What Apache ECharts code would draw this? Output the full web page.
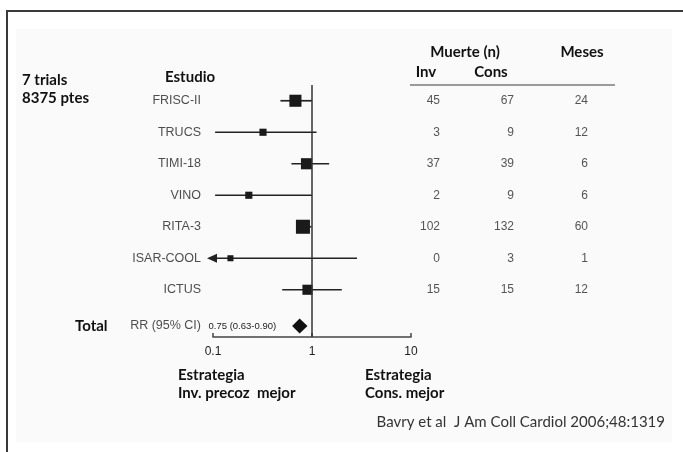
<!DOCTYPE html>
<html>
<head>
<meta charset="utf-8">
<script src="https://cdn.jsdelivr.net/npm/echarts@6/dist/echarts.min.js"></script>
<style>
html,body{margin:0;padding:0;background:#fff;}
#chart{width:683px;height:452px;}
</style>
</head>
<body>
<div id="chart"></div>
<script>
// ---- data ----
const studies = ['FRISC-II', 'TRUCS', 'TIMI-18', 'VINO', 'RITA-3', 'ISAR-COOL', 'ICTUS'];
const rr      = [0.68, 0.32, 0.88, 0.23, 0.81, 0.15, 0.90];
const ciLow   = [0.48, 0.105, 0.62, 0.105, 0.69, null, 0.50];   // null = below axis range (arrow)
const ciHigh  = [1.00, 1.11, 1.49, 1.00, 0.99, 2.85, 2.00];
const weights = [20, 7, 17, 7, 27, 5, 14];                      // relative study weights (%)
const invDeaths  = [45, 3, 37, 2, 102, 0, 15];
const consDeaths = [67, 9, 39, 9, 132, 3, 15];
const months     = [24, 12, 6, 6, 60, 1, 12];
const totalLabel = 'RR (95% CI)';
const totalRR = 0.75, totalLow = 0.63, totalHigh = 0.90;
const tableCols = ['Inv', 'Cons', 'Meses'];
const xTicks = [0.1, 1, 10];

// ---- layout helpers ----
const TOTAL_ROW = 7.15;
const xMin = xTicks[0], xMax = xTicks[xTicks.length - 1];
const helv = 'Liberation Sans';

const chart = echarts.init(document.getElementById('chart'), null, {renderer: 'canvas'});

const yAxisCfg = (gi) => ({
  type: 'value', gridIndex: gi, min: -0.5, max: 7.5, inverse: true, show: false
});

const labelData = studies.map((s, i) => ({value: [xMin, i], name: s}));
labelData.push({value: [xMin, TOTAL_ROW], name: totalLabel});

const tableData = [];
studies.forEach((s, i) => {
  tableData.push({value: [tableCols[0], i], label: {formatter: String(invDeaths[i])}});
  tableData.push({value: [tableCols[1], i], label: {formatter: String(consDeaths[i])}});
  tableData.push({value: [tableCols[2], i], label: {formatter: String(months[i])}});
});

function studyItem(params, api) {
  const i = params.dataIndex;
  const y = api.coord([1, i])[1];
  const xm = api.coord([rr[i], i])[0];
  const hiX = api.coord([ciHigh[i], i])[0];
  const minX = api.coord([xMin, i])[0];
  const children = [];
  let loX;
  let arrow = false;
  if (ciLow[i] == null || ciLow[i] < xMin) { loX = minX - 6; arrow = true; }
  else loX = api.coord([ciLow[i], i])[0];
  const lineStart = arrow ? loX + 8 : loX;
  children.push({type: 'line', shape: {x1: lineStart, y1: y, x2: hiX, y2: y},
    style: {stroke: '#222', lineWidth: 1.7}});
  if (arrow) {
    children.push({type: 'polygon', shape: {points: [[loX, y], [loX + 10, y - 4.5], [loX + 10, y + 4.5]]},
      style: {fill: '#222'}});
  }
  const side = 2.7 * Math.sqrt(weights[i]);
  children.push({type: 'rect', shape: {x: xm - side / 2, y: y - side / 2, width: side, height: side},
    style: {fill: '#1a1a1a'}});
  return {type: 'group', children};
}

function totalItem(params, api) {
  const p = api.coord([totalRR, TOTAL_ROW]);
  const lo = api.coord([totalLow, TOTAL_ROW])[0];
  const hi = api.coord([totalHigh, TOTAL_ROW])[0];
  const h = 7.5;
  return {type: 'group', children: [
    {type: 'polygon', shape: {points: [[lo, p[1]], [p[0], p[1] - h], [hi, p[1]], [p[0], p[1] + h]]},
      style: {fill: '#111'}},
    {type: 'text', style: {x: lo - 16, y: p[1], text: totalRR.toFixed(2) + ' (' + totalLow.toFixed(2) + '-' + totalHigh.toFixed(2) + ')',
      align: 'right', verticalAlign: 'middle', fill: '#222', font: '9.5px "Liberation Sans"'}}
  ]};
}

const option = {
  animation: false,
  backgroundColor: '#fff',
  grid: [
    {left: 213, width: 198, top: 85, height: 252},
    {left: 403, width: 222, top: 85, height: 252}
  ],
  xAxis: [
    {type: 'log', logBase: 10, min: xMin, max: xMax, gridIndex: 0,
      axisLine: {show: true, onZero: false, lineStyle: {color: '#444', width: 1.5}},
      axisTick: {show: true, inside: true, length: 4, lineStyle: {color: '#444', width: 1.5}},
      minorTick: {show: false}, splitLine: {show: false},
      axisLabel: {color: '#222', fontFamily: helv, fontSize: 12, margin: 9,
        formatter: v => String(v)}},
    {type: 'category', data: tableCols, gridIndex: 1, show: false}
  ],
  yAxis: [yAxisCfg(0), yAxisCfg(1)],
  graphic: [
    {type: 'rect', shape: {x: 16, y: 29, width: 656, height: 413}, style: {fill: '#fafafa'}, z: -10},
    {type: 'rect', shape: {x: 7, y: 11, width: 700, height: 500}, style: {fill: null, stroke: '#3a3a3a', lineWidth: 2}, z: 10},
    {type: 'text', x: 22, y: 80, style: {text: '7 trials', font: 'bold 15px Lato', fill: '#111', verticalAlign: 'middle'}},
    {type: 'text', x: 22, y: 98, style: {text: '8375 ptes', font: 'bold 15px Lato', fill: '#111', verticalAlign: 'middle'}},
    {type: 'text', x: 165, y: 77, style: {text: 'Estudio', font: 'bold 15px Lato', fill: '#111', verticalAlign: 'middle'}},
    {type: 'text', x: 75, y: 326, style: {text: 'Total', font: 'bold 15px Lato', fill: '#111', verticalAlign: 'middle'}},
    {type: 'text', x: 465, y: 52, style: {text: 'Muerte (n)', font: 'bold 15px Lato', fill: '#111', align: 'center', verticalAlign: 'middle'}},
    {type: 'text', x: 582, y: 52, style: {text: 'Meses', font: 'bold 15px Lato', fill: '#111', align: 'center', verticalAlign: 'middle'}},
    {type: 'text', x: 426, y: 72, style: {text: 'Inv', font: 'bold 15px Lato', fill: '#111', align: 'center', verticalAlign: 'middle'}},
    {type: 'text', x: 491, y: 72, style: {text: 'Cons', font: 'bold 15px Lato', fill: '#111', align: 'center', verticalAlign: 'middle'}},
    {type: 'line', shape: {x1: 410, y1: 85, x2: 615, y2: 85}, style: {stroke: '#9a9a9a', lineWidth: 2}},
    {type: 'text', x: 178, y: 375, style: {text: 'Estrategia', font: 'bold 15px Lato', fill: '#111', verticalAlign: 'middle'}},
    {type: 'text', x: 178, y: 393, style: {text: 'Inv. precoz  mejor', font: 'bold 15px Lato', fill: '#111', verticalAlign: 'middle'}},
    {type: 'text', x: 365, y: 375, style: {text: 'Estrategia', font: 'bold 15px Lato', fill: '#111', verticalAlign: 'middle'}},
    {type: 'text', x: 365, y: 393, style: {text: 'Cons. mejor', font: 'bold 15px Lato', fill: '#111', verticalAlign: 'middle'}},
    {type: 'text', x: 665, y: 422, style: {text: 'Bavry et al  J Am Coll Cardiol 2006;48:1319', font: '15px Lato', fill: '#333', align: 'right', verticalAlign: 'middle'}}
  ],
  series: [
    {type: 'custom', xAxisIndex: 0, yAxisIndex: 0, clip: false,
      data: studies.map((s, i) => [rr[i], i]),
      renderItem: studyItem,
      markLine: {silent: true, symbol: 'none', label: {show: false},
        lineStyle: {color: '#333', width: 1.5, type: 'solid'},
        data: [{xAxis: 1}]}},
    {type: 'custom', xAxisIndex: 0, yAxisIndex: 0, clip: false,
      data: [[totalRR, TOTAL_ROW]], renderItem: totalItem},
    {type: 'scatter', xAxisIndex: 0, yAxisIndex: 0, symbolSize: 0, clip: false,
      data: labelData,
      label: {show: true, position: 'left', distance: 12, formatter: p => p.name,
        color: '#222', fontFamily: helv, fontSize: 12.5}},
    {type: 'scatter', xAxisIndex: 1, yAxisIndex: 1, symbolSize: 0, clip: false,
      data: tableData,
      label: {show: true, position: 'left', distance: 0,
        color: '#2a2a2a', fontFamily: helv, fontSize: 12}}
  ]
};
chart.setOption(option);
</script>
</body>
</html>
